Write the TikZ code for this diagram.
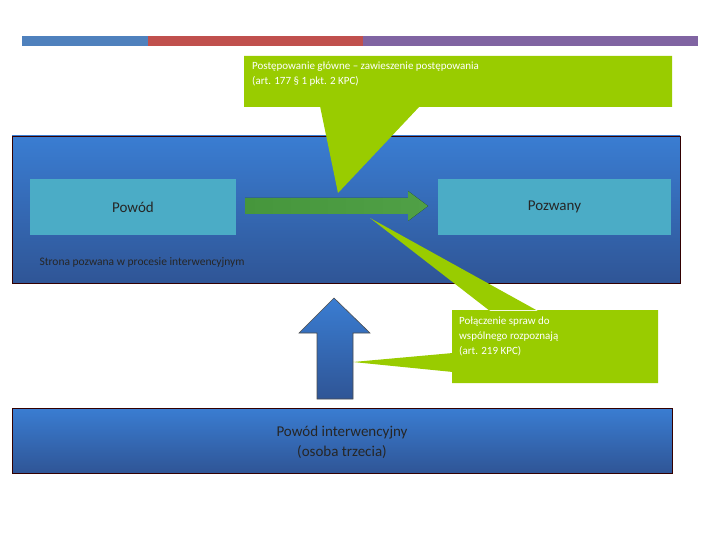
\documentclass[tikz,border=0pt]{standalone}
\usepackage{fontspec}
\setmainfont{Carlito}
\begin{document}
\begin{tikzpicture}[x=1pt,y=-1pt,
  bluebox/.style={draw=black!60!red!50!black,line width=0.6pt,top color=blue!45!cyan!60!black!80,bottom color=blue!55!black!75,},
  side/.style={fill=cyan!55!blue!55!white!85!black,draw=none},
  callout/.style={fill=green!60!yellow!80!black,draw=none},
  wtxt/.style={text=white}]
\useasboundingbox (0,0) rectangle (720,540);
\fill[fill={rgb,255:red,79;green,129;blue,189}] (22,36) rectangle (148,46);
\fill[fill={rgb,255:red,192;green,80;blue,77}] (148,36) rectangle (363,46);
\fill[fill={rgb,255:red,128;green,100;blue,162}] (363,36) rectangle (698,46);
\node[bluebox,minimum width=668pt,minimum height=147pt,inner sep=0pt,
  top color={rgb,255:red,58;green,125;blue,210},bottom color={rgb,255:red,47;green,85;blue,150}] (main) at (346,209.5) {};
\node[side,minimum width=206pt,minimum height=56pt,fill={rgb,255:red,75;green,172;blue,198},wtxt,font=\fontsize{15}{18}\selectfont,text=black!85] (powod) at (133,207) {Powód};
\node[side,minimum width=233pt,minimum height=56pt,fill={rgb,255:red,75;green,172;blue,198},font=\fontsize{15}{18}\selectfont,text=black!85] (pozwany) at (554.5,207) {Pozwany};
\fill[left color={rgb,255:red,70;green,150;blue,60},right color={rgb,255:red,80;green,160;blue,70}]
  (245,198) -- (408,198) -- (408,191) -- (428,206) -- (408,221) -- (408,214) -- (245,214) -- cycle;
\node[anchor=west,font=\fontsize{11.5}{14}\selectfont,text=black!85] (strona) at (36,263) {Strona pozwana w procesie interwencyjnym};
% top callout
\fill[fill={rgb,255:red,153;green,204;blue,0}] (244,56) rectangle (672,107) (320,106) -- (338,193) -- (420,106) -- cycle;
\node[anchor=north west,align=left,font=\fontsize{11}{15}\selectfont,text=white,inner sep=0pt] (c1) at (252,62) {Postępowanie główne -- zawieszenie postępowania\\(art. 177 § 1 pkt. 2 KPC)};
% bottom callout
\fill[fill={rgb,255:red,153;green,204;blue,0}] (452,310) rectangle (658,383) (490,311) -- (370,218) -- (538,311) -- cycle (453,353) -- (353,362) -- (453,372) -- cycle;
\node[anchor=north west,align=left,font=\fontsize{11}{15}\selectfont,text=white,inner sep=0pt] (c2) at (459,317) {Połączenie spraw do\\wspólnego rozpoznają\\(art. 219 KPC)};
% up arrow
\draw[black!70,line width=0.6pt,top color={rgb,255:red,58;green,125;blue,210},bottom color={rgb,255:red,47;green,85;blue,150}]
  (317,399) -- (317,333) -- (299,333) -- (334,298) -- (370,333) -- (353,333) -- (353,399) -- cycle;
\node[bluebox,minimum width=660pt,minimum height=65pt,inner sep=0pt,
  top color={rgb,255:red,58;green,125;blue,210},bottom color={rgb,255:red,47;green,85;blue,150}] (bottom) at (342,440.5) {};
\node[align=center,font=\fontsize{15}{20}\selectfont,text=black!85] (bt) at (342,442) {Powód interwencyjny\\(osoba trzecia)};
\end{tikzpicture}
\end{document}
